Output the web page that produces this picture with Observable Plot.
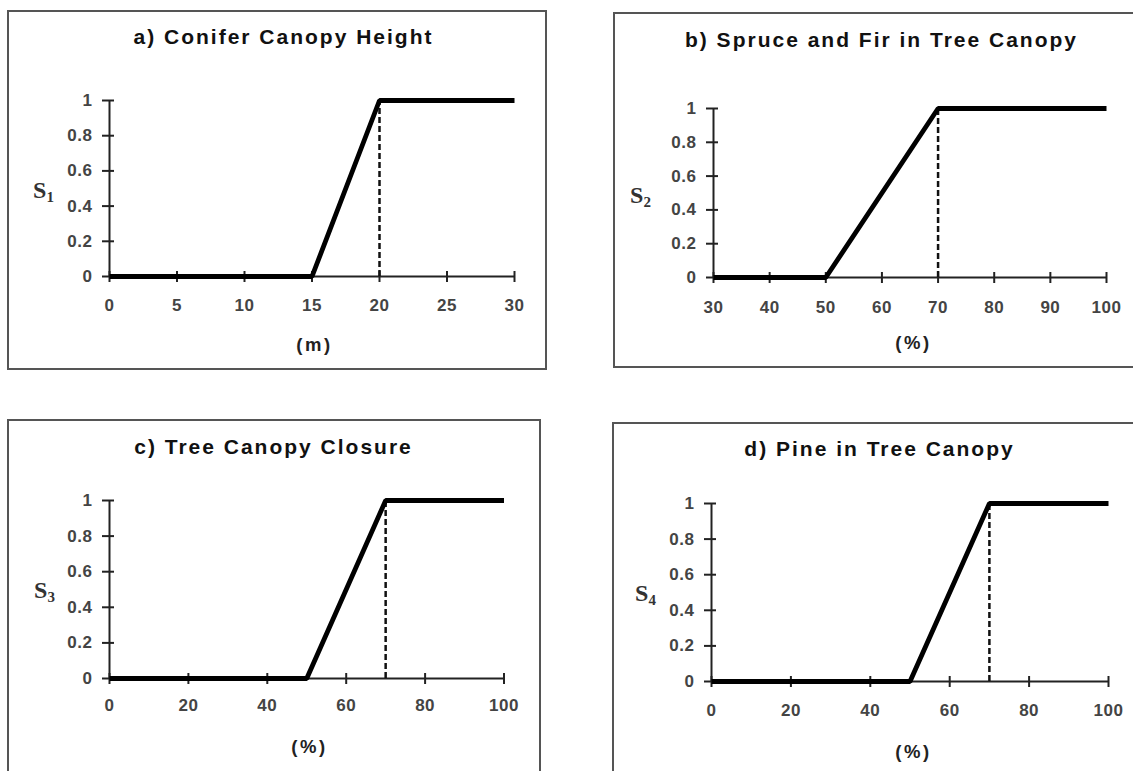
<!DOCTYPE html>
<html>
<head>
<meta charset="utf-8">
<script src="https://cdn.jsdelivr.net/npm/d3@7"></script>
<script src="https://cdn.jsdelivr.net/npm/@observablehq/plot@0.6"></script>
<style>
html, body { margin: 0; padding: 0; background: #fff; overflow: hidden; }
#root { position: relative; width: 1133px; height: 771px; overflow: hidden; background: #fff; }
.panel { position: absolute; }
.panel svg { position: absolute; left: 0; top: 0; }
.border { position: absolute; left: 0; top: 0; box-sizing: border-box; border: 2px solid #555; pointer-events: none; }
</style>
</head>
<body>
<div id="root"></div>
<script>
// ---- data ----
const titles = ["a) Conifer Canopy Height", "b) Spruce and Fir in Tree Canopy", "c) Tree Canopy Closure", "d) Pine in Tree Canopy"];
const unitLabels = ["(m)", "(%)", "(%)", "(%)"];
const suitSymbol = "S";
const suitIndex = ["1", "2", "3", "4"];
const xA = [0, 15, 20, 30];
const xB = [30, 50, 70, 100];
const xC = [0, 50, 70, 100];
const xD = [0, 50, 70, 100];
const suitability = [0, 0, 1, 1];
const optimum = [20, 70, 70, 70];
const ticksA = [0, 5, 10, 15, 20, 25, 30];
const ticksB = [30, 40, 50, 60, 70, 80, 90, 100];
const ticksC = [0, 20, 40, 60, 80, 100];
const ticksD = [0, 20, 40, 60, 80, 100];
const yTicks = [0, 0.2, 0.4, 0.6, 0.8, 1];

// ---- layout (pixels) ----
const layout = [
  {left: 7,   top: 10,  w: 540, h: 360, bh: 360, ml: 102, mr: 33,   mt: 90, mb: 94,  title: [276, 27], unit: [307, 335], s: [36, 180], xl: 29},
  {left: 613, top: 12,  w: 540, h: 356, bh: 356, ml: 100, mr: 47,   mt: 96, mb: 91,  title: [268, 28], unit: [300, 331], s: [27, 183], xl: 30},
  {left: 7,   top: 419, w: 534, h: 360, bh: 420, ml: 102, mr: 37.5, mt: 81, mb: 101, title: [266, 28], unit: [302, 328], s: [37, 171], xl: 27},
  {left: 612, top: 422, w: 540, h: 360, bh: 420, ml: 99,  mr: 44,   mt: 81, mb: 101, title: [267, 27], unit: [301, 330], s: [33, 171], xl: 29}
];

const xsAll = [xA, xB, xC, xD];
const ticksAll = [ticksA, ticksB, ticksC, ticksD];
const root = document.getElementById("root");
const sans = "'Liberation Sans', Arial, Helvetica, sans-serif";
const serif = "'Liberation Serif', 'Times New Roman', serif";
const ink = "#111";

layout.forEach((L, i) => {
  const xs = xsAll[i];
  const ticks = ticksAll[i];
  const d0 = ticks[0], d1 = ticks[ticks.length - 1];
  const pts = xs.map((x, j) => ({x, s: suitability[j]}));

  const svg = Plot.plot({
    width: L.w,
    height: L.h,
    marginLeft: L.ml, marginRight: L.mr, marginTop: L.mt, marginBottom: L.mb,
    x: {domain: [d0, d1], axis: null},
    y: {domain: [0, 1], axis: null},
    style: {fontFamily: sans, background: "transparent", overflow: "visible", color: ink},
    marks: [
      // axis lines
      Plot.ruleY([0], {x1: () => d0, x2: () => d1, stroke: "#222", strokeWidth: 2}),
      Plot.ruleX([d0], {y1: () => 0, y2: () => 1, stroke: "#222", strokeWidth: 2}),
      // tick marks
      Plot.ruleX(ticks, {x: d => d, y1: () => 0, y2: () => 0, insetTop: -5, insetBottom: -6, stroke: "#222", strokeWidth: 2}),
      Plot.ruleY(yTicks, {y: d => d, x1: () => d0, x2: () => d0, insetLeft: -7, insetRight: -5, stroke: "#222", strokeWidth: 2}),
      // dashed optimum line
      Plot.ruleX([optimum[i]], {y1: () => 0, y2: () => 1, stroke: ink, strokeWidth: 2.5, strokeDasharray: "6,3"}),
      // suitability function
      Plot.line(pts, {x: "x", y: "s", stroke: "#000", strokeWidth: 4.8, strokeLinejoin: "miter", strokeLinecap: "butt"}),
      // tick labels
      Plot.text(ticks, {x: d => d, y: () => 0, dy: L.xl, text: d => String(d), fontSize: 17, fontWeight: "bold", fill: "#444", lineAnchor: "middle"}),
      Plot.text(yTicks, {x: () => d0, y: d => d, dx: -17, text: d => String(d), fontSize: 17, fontWeight: "bold", fill: "#444", textAnchor: "end", lineAnchor: "middle"}),
      // title
      Plot.text([titles[i]], {frameAnchor: "top-left", dx: L.title[0] - L.ml, dy: L.title[1] - L.mt, text: d => d, fontSize: 21, fontWeight: "bold", fill: ink, textAnchor: "middle", lineAnchor: "middle"}),
      // unit label
      Plot.text([unitLabels[i]], {frameAnchor: "top-left", dx: L.unit[0] - L.ml, dy: L.unit[1] - L.mt, text: d => d, fontSize: 18.5, fontWeight: "bold", fill: "#222", textAnchor: "middle", lineAnchor: "middle"}),
      // suitability label
      Plot.text([suitSymbol + suitIndex[i]], {frameAnchor: "top-left", dx: L.s[0] - L.ml, dy: L.s[1] - L.mt, text: d => d, fontSize: 24, fontWeight: "bold", fontFamily: serif, fill: "#333", textAnchor: "middle", lineAnchor: "middle"})
    ]
  });

  const textGroups = svg.querySelectorAll('g[aria-label="text"]');
  const spacing = ["0.5px", "0.5px", "2px", "2.5px", "0px"];
  textGroups.forEach((g, k) => { g.style.letterSpacing = spacing[k] || "0px"; });
  // turn the index of the suitability label into a subscript
  const sText = textGroups[4] && textGroups[4].querySelector("text");
  if (sText) {
    const full = sText.textContent;
    sText.textContent = "";
    const ns = "http://www.w3.org/2000/svg";
    const t1 = document.createElementNS(ns, "tspan");
    t1.textContent = full.slice(0, 1);
    const t2 = document.createElementNS(ns, "tspan");
    t2.textContent = full.slice(1);
    t2.setAttribute("font-size", "15");
    t2.setAttribute("dy", "4");
    sText.appendChild(t1);
    sText.appendChild(t2);
  }

  const wrap = document.createElement("div");
  wrap.className = "panel";
  wrap.style.left = L.left + "px";
  wrap.style.top = L.top + "px";
  wrap.style.width = L.w + "px";
  wrap.style.height = L.bh + "px";
  wrap.appendChild(svg);
  const border = document.createElement("div");
  border.className = "border";
  border.style.width = L.w + "px";
  border.style.height = L.bh + "px";
  wrap.appendChild(border);
  root.appendChild(wrap);
});
</script>
</body>
</html>
